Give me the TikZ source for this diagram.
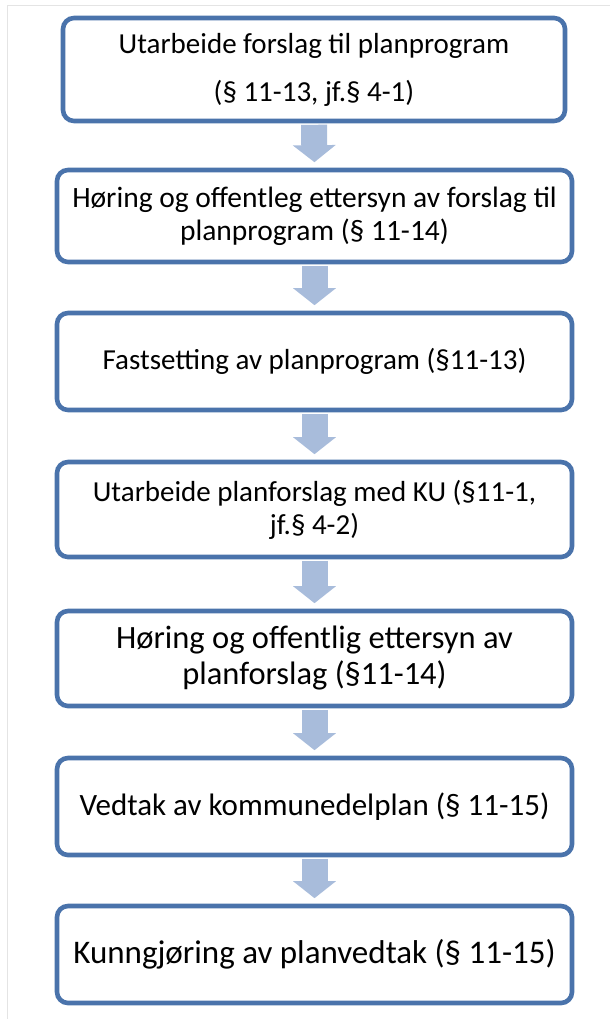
\documentclass[tikz,border=0pt]{standalone}
\usepackage{fontspec}
\setmainfont{Carlito}
\usetikzlibrary{arrows.meta}

\definecolor{boxblue}{HTML}{4A73AB}
\definecolor{arrowblue}{HTML}{A8BCDB}
\definecolor{framegray}{HTML}{E4E4E4}

\begin{document}
\begin{tikzpicture}[x=1pt, y=-1pt]
\tikzstyle{stage}=[draw=boxblue, line width=4.6pt, rounded corners=11pt, fill=white,
    align=center, inner sep=0pt, minimum width=515pt, minimum height=96pt]
\tikzstyle{flow}=[arrowblue, line width=26pt, -{Triangle[width=42pt, length=17pt]},
    shorten <=1.5pt, shorten >=5.5pt]

\useasboundingbox (0,0) rectangle (610,1019);
\draw [framegray, line width=1pt] (7,1019) -- (7,6) -- (610,6);

\node (fase1) at (314, 69.5) [stage, minimum width=502pt, minimum height=103pt,
    font=\fontsize{29}{35}\selectfont]
    {Utarbeide forslag til planprogram\\[13pt] (§ 11-13, jf.§ 4-1)};
\node (fase2) at (314.5, 216) [stage, minimum height=92pt,
    font=\fontsize{29.5}{33}\selectfont]
    {Høring og offentleg ettersyn av forslag til\\ planprogram (§ 11-14)};
\node (fase3) at (314.5, 361.5) [stage, minimum height=97pt,
    font=\fontsize{29}{33}\selectfont]
    {Fastsetting av planprogram (§11-13)};
\node (fase4) at (314.5, 509.5) [stage, minimum height=95pt,
    font=\fontsize{29}{33}\selectfont]
    {Utarbeide planforslag med KU (§11-1,\\ jf.§ 4-2)};
\node (fase5) at (314.5, 658.5) [stage, minimum height=95pt,
    font=\fontsize{32.5}{36}\selectfont]
    {Høring og offentlig ettersyn av\\ planforslag (§11-14)};
\node (fase6) at (314.5, 806.5) [stage, minimum height=97pt,
    font=\fontsize{31}{36}\selectfont]
    {Vedtak av kommunedelplan (§ 11-15)};
\node (fase7) at (314.5, 954.5) [stage, minimum height=97pt,
    font=\fontsize{33}{36}\selectfont]
    {Kunngjøring av planvedtak (§ 11-15)};

% block arrows between the steps
\foreach \a/\b in {fase1/fase2, fase2/fase3, fase3/fase4, fase4/fase5, fase5/fase6, fase6/fase7}
    \draw [flow] (\a.south) -- (\b.north);

\end{tikzpicture}
\end{document}
